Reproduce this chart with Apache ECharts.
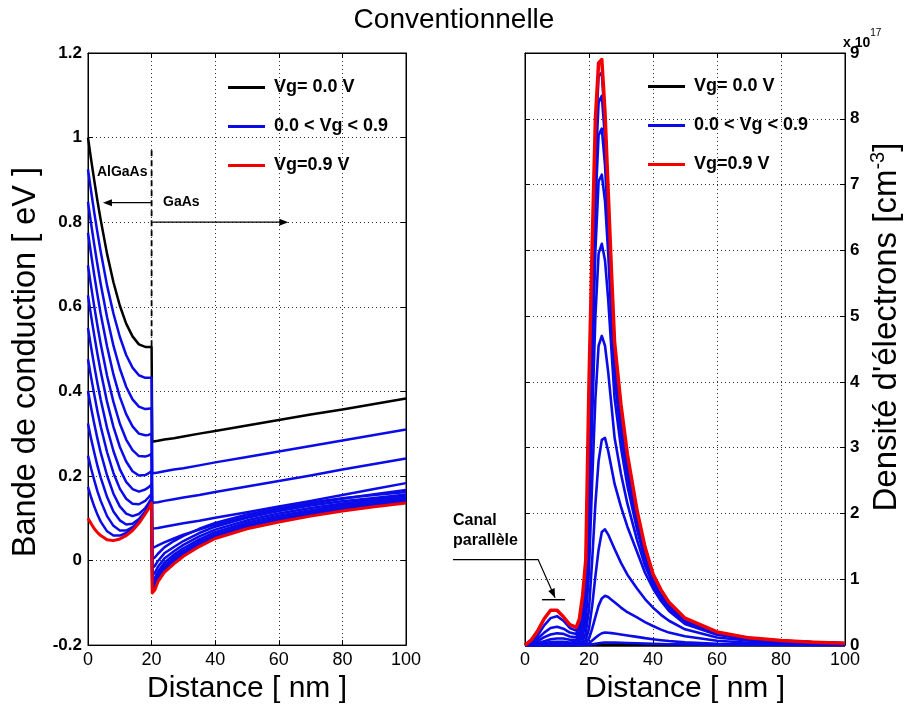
<!DOCTYPE html>
<html><head><meta charset="utf-8">
<script src="https://cdn.jsdelivr.net/npm/echarts@6/dist/echarts.min.js"></script>
<style>html,body{margin:0;padding:0;background:#fff}#c{width:908px;height:709px}</style>
</head><body><div id="c"></div>
<script>
// ---------- Left panel: conduction band (eV) ----------
const xAl = [0,1,2,3,4,6,8,10,12,14,16,18,19,20];
const xGa = [20.2,21,22,24,27,30,35,40,50,60,70,80,90,100];
const bandBlackAl = [1.0,0.947,0.897,0.849,0.805,0.725,0.658,0.603,0.56,0.53,0.511,0.505,0.505,0.505];
const bandBlackGa = [0.281,0.282,0.283,0.286,0.289,0.293,0.300,0.306,0.319,0.332,0.345,0.357,0.370,0.383];
const bandBlueAl = [
  [0.925,0.872,0.821,0.774,0.730,0.650,0.584,0.529,0.486,0.456,0.438,0.432,0.432,0.432],
  [0.848,0.795,0.745,0.698,0.654,0.575,0.508,0.454,0.411,0.381,0.364,0.358,0.359,0.360],
  [0.775,0.723,0.673,0.627,0.583,0.506,0.440,0.387,0.346,0.317,0.300,0.296,0.297,0.300],
  [0.698,0.647,0.599,0.554,0.512,0.437,0.375,0.324,0.286,0.261,0.247,0.246,0.248,0.252],
  [0.627,0.577,0.531,0.487,0.447,0.375,0.316,0.269,0.234,0.211,0.201,0.202,0.206,0.212],
  [0.550,0.503,0.459,0.418,0.380,0.313,0.259,0.216,0.186,0.169,0.163,0.168,0.173,0.180],
  [0.476,0.432,0.391,0.352,0.317,0.256,0.207,0.170,0.146,0.134,0.133,0.141,0.149,0.158],
  [0.401,0.360,0.322,0.287,0.255,0.201,0.158,0.128,0.111,0.105,0.110,0.124,0.135,0.148],
  [0.324,0.287,0.254,0.223,0.196,0.150,0.116,0.095,0.085,0.087,0.098,0.116,0.129,0.143],
  [0.248,0.217,0.189,0.163,0.141,0.105,0.082,0.071,0.071,0.079,0.092,0.113,0.126,0.140],
  [0.174,0.149,0.127,0.108,0.092,0.069,0.059,0.059,0.065,0.076,0.092,0.114,0.126,0.140]
];
const bandBlueGa = [
  [0.206,0.207,0.208,0.211,0.215,0.218,0.225,0.232,0.245,0.258,0.271,0.284,0.297,0.310],
  [0.136,0.137,0.138,0.141,0.145,0.149,0.155,0.162,0.175,0.188,0.201,0.215,0.228,0.241],
  [0.075,0.076,0.077,0.080,0.084,0.088,0.094,0.101,0.114,0.128,0.141,0.155,0.169,0.183],
  [0.030,0.032,0.036,0.043,0.052,0.061,0.073,0.085,0.104,0.120,0.134,0.146,0.157,0.167],
  [0.003,0.007,0.016,0.031,0.046,0.058,0.075,0.089,0.109,0.124,0.137,0.147,0.155,0.162],
  [-0.018,-0.013,-0.001,0.017,0.032,0.046,0.065,0.080,0.101,0.117,0.130,0.140,0.148,0.156],
  [-0.035,-0.029,-0.015,0.005,0.022,0.037,0.057,0.073,0.095,0.111,0.124,0.135,0.144,0.152],
  [-0.048,-0.041,-0.026,-0.005,0.014,0.029,0.050,0.067,0.090,0.106,0.119,0.131,0.140,0.149],
  [-0.057,-0.050,-0.034,-0.012,0.008,0.023,0.045,0.062,0.085,0.101,0.115,0.127,0.137,0.146],
  [-0.064,-0.057,-0.040,-0.018,0.002,0.018,0.040,0.058,0.081,0.097,0.111,0.123,0.134,0.143],
  [-0.070,-0.063,-0.045,-0.023,-0.003,0.013,0.036,0.054,0.077,0.094,0.108,0.120,0.131,0.140]
];
const bandRedAl = [0.100,0.087,0.075,0.066,0.059,0.049,0.047,0.051,0.059,0.071,0.088,0.110,0.122,0.136];
const bandRedGa = [-0.077,-0.070,-0.050,-0.028,-0.008,0.010,0.033,0.052,0.075,0.091,0.105,0.117,0.127,0.136];
const interfaceX = [20, 20];
const interfaceY = [0.97, 0.505];

// ---------- Right panel: electron density (x 1e17 cm^-3) ----------
const xR = [0,2,4,6,8,10,12,14,16,17,18,19,20,21,22,23,24,25,26,27,28,30,32,35,37.5,40,42.5,45,50,60,70,80,90,100];
const densBlack = [0,0,0,0,0,0,0,0,0,0,0,0,0,0,0,0,0,0,0,0,0,0,0,0,0,0,0,0,0,0,0,0,0,0];
const densBlue = [
  [0,0,0,0,0,0,0,0,0,0,0,0,0.005,0.012,0.02,0.028,0.035,0.039,0.04,0.039,0.038,0.035,0.032,0.027,0.023,0.02,0.017,0.014,0.01,0.005,0.002,0.001,0,0],
  [0,0,0,0,0,0,0,0,0,0,0,0.01,0.03,0.07,0.11,0.15,0.18,0.19,0.188,0.182,0.175,0.16,0.145,0.125,0.106,0.09,0.075,0.062,0.042,0.02,0.01,0.005,0.003,0.002],
  [0,0,0,0,0,0,0,0,0,0,0.01,0.03,0.10,0.25,0.43,0.6,0.71,0.75,0.73,0.69,0.65,0.57,0.5,0.42,0.35,0.29,0.235,0.19,0.135,0.065,0.035,0.02,0.012,0.008],
  [0,0,0,0,0,0,0,0,0,0.01,0.03,0.08,0.25,0.6,1.05,1.45,1.72,1.76,1.68,1.57,1.46,1.25,1.07,0.86,0.70,0.57,0.46,0.37,0.24,0.115,0.065,0.04,0.025,0.016],
  [0,0,0,0,0,0,0,0,0,0.01,0.06,0.18,0.55,1.3,2.15,2.8,3.12,3.15,2.95,2.7,2.45,2.1,1.8,1.42,1.1,0.86,0.67,0.52,0.32,0.158,0.086,0.053,0.034,0.022],
  [0,0,0,0.01,0.015,0.02,0.02,0.02,0.02,0.05,0.13,0.35,1.15,2.5,3.75,4.55,4.7,4.55,4.15,3.65,3.15,2.6,2.15,1.6,1.21,0.92,0.72,0.56,0.34,0.168,0.092,0.057,0.037,0.024],
  [0,0,0.01,0.03,0.045,0.05,0.05,0.04,0.045,0.09,0.22,0.52,1.75,3.45,5.0,5.95,6.1,5.85,5.25,4.5,3.75,3.0,2.42,1.76,1.3,0.96,0.75,0.58,0.36,0.175,0.095,0.06,0.039,0.025],
  [0,0.01,0.03,0.06,0.09,0.10,0.10,0.08,0.08,0.14,0.32,0.70,2.3,4.25,6.0,7.05,7.15,6.75,5.95,4.95,4.05,3.2,2.57,1.84,1.35,0.99,0.77,0.6,0.37,0.18,0.098,0.062,0.041,0.026],
  [0,0.02,0.06,0.12,0.16,0.18,0.17,0.13,0.12,0.20,0.42,0.85,2.7,4.85,6.7,7.75,7.85,7.3,6.35,5.2,4.25,3.35,2.67,1.9,1.385,1.01,0.785,0.61,0.38,0.185,0.101,0.064,0.042,0.027],
  [0,0.03,0.10,0.19,0.26,0.28,0.25,0.19,0.17,0.27,0.52,1.0,3.1,5.35,7.2,8.25,8.35,7.7,6.6,5.4,4.4,3.45,2.75,1.95,1.42,1.03,0.8,0.62,0.39,0.19,0.104,0.066,0.043,0.028],
  [0,0.05,0.15,0.30,0.41,0.44,0.37,0.26,0.22,0.33,0.62,1.15,3.5,5.75,7.6,8.65,8.7,7.95,6.75,5.55,4.5,3.55,2.82,2.0,1.45,1.05,0.81,0.63,0.4,0.195,0.107,0.068,0.044,0.029]
];
const densRed = [0,0.08,0.22,0.40,0.53,0.53,0.43,0.31,0.27,0.40,0.75,1.3,4.0,6.1,8.0,8.85,8.9,8.1,6.9,5.7,4.6,3.65,2.9,2.05,1.49,1.08,0.84,0.65,0.41,0.2,0.11,0.07,0.045,0.03];

const legendNames = ['Vg= 0.0 V', '0.0 < Vg < 0.9', 'Vg=0.9 V'];
const BLACK = '#000000', BLUE = '#0b0be8', RED = '#f20000';
const FONT = '"Liberation Sans", Arial, Helvetica, sans-serif';

const chart = echarts.init(document.getElementById('c'), null, {renderer: 'canvas'});
const pairs = (xs, ys) => xs.map((x, i) => [x, ys[i]]);
const xL = xAl.concat(xGa);

const series = [];
function line(name, gi, data, color, width, extra) {
  return Object.assign({
    name: name, type: 'line', xAxisIndex: gi, yAxisIndex: gi, data: data,
    symbol: 'none', showSymbol: false, silent: true, animation: false,
    lineStyle: {color: color, width: width, join: 'round'}, itemStyle: {color: color}
  }, extra || {});
}
series.push(line(legendNames[0], 0, pairs(xL, bandBlackAl.concat(bandBlackGa)), BLACK, 2.5));
bandBlueAl.forEach((a, k) => series.push(line(legendNames[1], 0, pairs(xL, a.concat(bandBlueGa[k])), BLUE, 2.5)));
series.push(line(legendNames[2], 0, pairs(xL, bandRedAl.concat(bandRedGa)), RED, 3));
series.push(line('interface', 0, pairs(interfaceX, interfaceY), BLACK, 1.8, {lineStyle: {color: BLACK, width: 1.8, type: [6, 4]}}));
const rightRef = series.length;
series.push(line(legendNames[0], 1, pairs(xR, densBlack), BLACK, 3.5, {clip: false}));
densBlue.forEach(a => series.push(line(legendNames[1], 1, pairs(xR, a), BLUE, 2.6)));
series.push(line(legendNames[2], 1, pairs(xR, densRed), RED, 3.5));

const splitStyle = {show: true, lineStyle: {color: '#333', width: 1, type: [1, 3]}};
function xMain(gi) {
  return {
    gridIndex: gi, type: 'value', min: 0, max: 100, interval: 20, position: 'bottom',
    axisLine: {show: true, onZero: false, lineStyle: {color: '#000', width: 1}},
    axisTick: {show: true, inside: true, length: 5, lineStyle: {color: '#000'}},
    axisLabel: {color: '#000', fontSize: 18, fontFamily: FONT, margin: 6},
    splitLine: splitStyle,
    name: 'Distance [ nm ]', nameLocation: 'middle', nameGap: 20,
    nameTextStyle: {color: '#000', fontSize: 30, fontFamily: FONT, verticalAlign: 'top'}
  };
}
function xMirror(gi) {
  return {
    gridIndex: gi, type: 'value', min: 0, max: 100, interval: 20, position: 'top',
    axisLine: {show: true, onZero: false, lineStyle: {color: '#000', width: 1}},
    axisTick: {show: true, inside: true, length: 5, lineStyle: {color: '#000'}},
    axisLabel: {show: false}, splitLine: {show: false}
  };
}
function yMirror(gi, pos, min, max, itv) {
  return {
    gridIndex: gi, type: 'value', min: min, max: max, interval: itv, position: pos,
    axisLine: {show: true, onZero: false, lineStyle: {color: '#000', width: 1}},
    axisTick: {show: true, inside: true, length: 5, lineStyle: {color: '#000'}},
    axisLabel: {show: false}, splitLine: {show: false}
  };
}

const legendCommon = {
  orient: 'vertical', icon: 'rect', itemWidth: 37, itemHeight: 3, itemGap: 18, padding: 0,
  selectedMode: false, data: legendNames,
  textStyle: {color: '#000', fontSize: 18, fontWeight: 'bold', fontFamily: FONT, lineHeight: 21, padding: [0, 0, 0, 4]}
};

const option = {
  animation: false,
  backgroundColor: '#fff',
  title: {text: 'Conventionnelle', left: 'center', top: 1,
    textStyle: {color: '#000', fontSize: 28, fontWeight: 'normal', fontFamily: FONT}},
  legend: [
    Object.assign({left: 228, top: 77}, legendCommon),
    Object.assign({left: 648, top: 76}, legendCommon)
  ],
  grid: [
    {left: 88, top: 53, width: 318, height: 597, show: true, borderColor: '#000', borderWidth: 1, backgroundColor: 'transparent'},
    {left: 525, top: 53, width: 320, height: 597, show: true, borderColor: '#000', borderWidth: 1, backgroundColor: 'transparent'}
  ],
  xAxis: [xMain(0), xMain(1), xMirror(0), xMirror(1)],
  yAxis: [
    {
      gridIndex: 0, type: 'value', min: -0.2, max: 1.2, interval: 0.2, position: 'left',
      axisLine: {show: true, onZero: false, lineStyle: {color: '#000', width: 1}},
      axisTick: {show: true, inside: true, length: 5, lineStyle: {color: '#000'}},
      axisLabel: {color: '#000', fontSize: 17, fontWeight: 'bold', fontFamily: FONT, margin: 6,
        formatter: v => String(Math.round(v * 10) / 10)},
      splitLine: splitStyle,
      name: 'Bande de conduction [ eV ]', nameLocation: 'middle', nameRotate: 90, nameGap: 45,
      nameTextStyle: {color: '#000', fontSize: 32.5, fontFamily: FONT, padding: [0, 26, 0, 0]}
    },
    {
      gridIndex: 1, type: 'value', min: 0, max: 9, interval: 1, position: 'right',
      axisLine: {show: true, onZero: false, lineStyle: {color: '#000', width: 1}},
      axisTick: {show: true, inside: true, length: 5, lineStyle: {color: '#000'}},
      axisLabel: {color: '#000', fontSize: 17, fontWeight: 'bold', fontFamily: FONT, margin: 5},
      splitLine: splitStyle,
      name: '{a|Densité d\'électrons [cm}{s|-3}{a|]}', nameLocation: 'middle', nameRotate: 90, nameGap: 23,
      nameTextStyle: {color: '#000', fontSize: 33, fontFamily: FONT, padding: [0, 0, 0, 44],
        rich: {a: {fontSize: 33, fontFamily: FONT, color: '#000', lineHeight: 38},
               s: {fontSize: 20, fontFamily: FONT, color: '#000', lineHeight: 20, verticalAlign: 'top'}}}
    },
    yMirror(0, 'right', -0.2, 1.2, 0.2),
    yMirror(1, 'left', 0, 9, 1)
  ],
  series: series
};
chart.setOption(option);

// ---------- annotations (anchored on data coordinates) ----------
const L = (x, y) => chart.convertToPixel({seriesIndex: 0}, [x, y]);
const R = (x, y) => chart.convertToPixel({seriesIndex: rightRef}, [x, y]);
function head(tip, from, len, hw) {
  const dx = tip[0] - from[0], dy = tip[1] - from[1];
  const d = Math.hypot(dx, dy), ux = dx / d, uy = dy / d;
  const bx = tip[0] - ux * len, by = tip[1] - uy * len;
  return {type: 'polygon', silent: true, z: 100,
    shape: {points: [tip, [bx - uy * hw, by + ux * hw], [bx + uy * hw, by - ux * hw]]},
    style: {fill: '#000'}};
}
function seg(pts, w) {
  return {type: 'polyline', silent: true, z: 100, shape: {points: pts}, style: {stroke: '#000', lineWidth: w || 1.2, fill: null}};
}
function txt(p, s, size, weight) {
  return {type: 'text', silent: true, z: 100, x: p[0], y: p[1],
    style: {text: s, fill: '#000', fontSize: size, fontWeight: weight || 'bold', fontFamily: FONT, align: 'left', verticalAlign: 'middle'}};
}
const els = [];
els.push(txt(L(2.8, 0.919), 'AlGaAs', 14));
const aL0 = L(20, 0.846), aL1 = L(4.7, 0.846);
els.push(seg([aL0, [aL1[0] + 6, aL1[1]]], 1.3));
els.push(head(aL1, aL0, 9, 3.5));
els.push(txt(L(23.6, 0.848), 'GaAs', 14));
const aR0 = L(20.4, 0.80), aR1 = L(63, 0.80);
els.push(seg([aR0, [aR1[0] - 6, aR1[1]]], 1.3));
els.push(head(aR1, aR0, 9, 3.5));
els.push(txt(R(-22.5, 1.885), 'Canal', 16));
els.push(txt(R(-22.5, 1.583), 'parallèle', 16));
const c0 = R(-22.5, 1.30), c1 = R(4.1, 1.30), c2 = R(9.4, 0.72);
els.push(seg([c0, c1, c2], 1.2));
els.push(head(c2, c1, 9, 3.5));
els.push(seg([R(5.3, 0.69), R(12.5, 0.69)], 1.4));
els.push({type: 'text', silent: true, z: 100, x: 843, y: 28,
  style: {text: '{a|x 10}{b|17}', fill: '#000', fontFamily: FONT,
    rich: {a: {fontSize: 14, fontWeight: 'bold', fontFamily: FONT, lineHeight: 22, verticalAlign: 'bottom'},
           b: {fontSize: 10, fontFamily: FONT, lineHeight: 12, verticalAlign: 'top'}}}});
chart.setOption({graphic: {elements: els}});
</script>
</body></html>
